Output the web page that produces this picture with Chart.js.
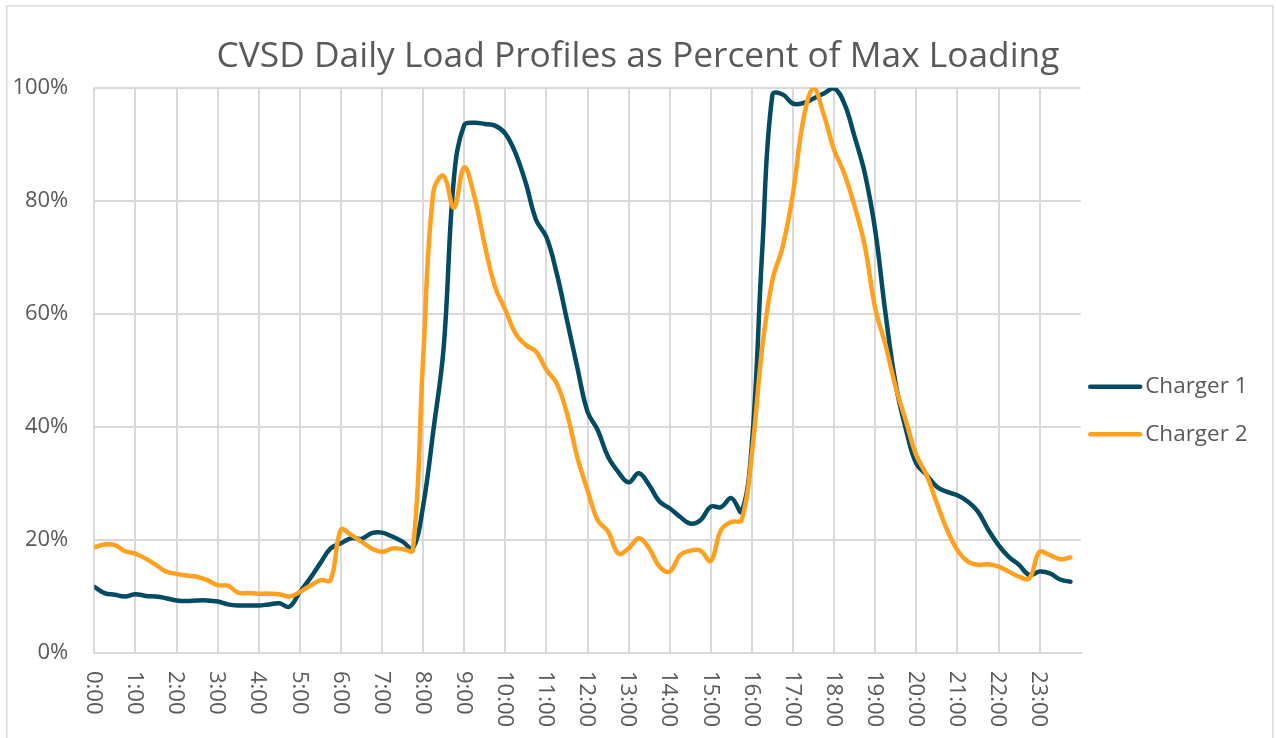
<!DOCTYPE html>
<html>
<head>
<meta charset="utf-8">
<script src="https://cdn.jsdelivr.net/npm/chart.js@4.4.1/dist/chart.umd.min.js"></script>
<style>
html,body{margin:0;padding:0;background:#fff;overflow:hidden;}
canvas{display:block;}
</style>
</head>
<body>
<canvas id="c" width="1276" height="738"></canvas>
<script>
// ---- data ----
const chartTitle = 'CVSD Daily Load Profiles as Percent of Max Loading';
const seriesNames = ['Charger 1', 'Charger 2'];
const times = [
 '0:00','0:15','0:30','0:45','1:00','1:15','1:30','1:45','2:00','2:15','2:30','2:45',
 '3:00','3:15','3:30','3:45','4:00','4:15','4:30','4:45','5:00','5:15','5:30','5:45',
 '6:00','6:15','6:30','6:45','7:00','7:15','7:30','7:45','8:00','8:15','8:30','8:45',
 '9:00','9:15','9:30','9:45','10:00','10:15','10:30','10:45','11:00','11:15','11:30','11:45',
 '12:00','12:15','12:30','12:45','13:00','13:15','13:30','13:45','14:00','14:15','14:30','14:45',
 '15:00','15:15','15:30','15:45','16:00','16:15','16:30','16:45','17:00','17:15','17:30','17:45',
 '18:00','18:15','18:30','18:45','19:00','19:15','19:30','19:45','20:00','20:15','20:30','20:45',
 '21:00','21:15','21:30','21:45','22:00','22:15','22:30','22:45','23:00','23:15','23:30','23:45'
];
const hourLabels = ['0:00','1:00','2:00','3:00','4:00','5:00','6:00','7:00','8:00','9:00','10:00','11:00',
 '12:00','13:00','14:00','15:00','16:00','17:00','18:00','19:00','20:00','21:00','22:00','23:00'];
const charger1 = [
 11.7,10.6,10.3,10.0,10.4,10.1,10.0,9.7,9.3,9.2,9.3,9.3,
 9.1,8.6,8.4,8.4,8.4,8.6,8.8,8.2,10.8,13.2,15.9,18.5,
 19.4,20.3,20.2,21.2,21.3,20.6,19.7,18.5,26.0,39.4,54.0,84.0,
 93.4,93.8,93.6,93.3,91.9,88.4,83.1,76.6,73.6,67.2,58.9,50.6,
 42.7,39.4,34.7,32.0,30.2,31.8,29.7,26.8,25.6,24.1,22.9,23.5,
 25.9,25.8,27.4,25.0,37.0,71.0,98.8,98.8,97.2,97.3,98.1,99.0,
 99.9,97.2,91.3,84.8,74.8,60.1,47.5,39.5,33.5,31.5,29.4,28.5,
 27.9,26.8,25.0,21.8,19.1,17.0,15.6,13.8,14.4,14.1,13.0,12.6
];
const charger2 = [
 18.7,19.2,19.1,18.0,17.6,16.7,15.6,14.4,14.0,13.7,13.5,12.9,
 12.0,11.9,10.7,10.6,10.5,10.5,10.4,10.0,10.8,11.9,12.9,12.9,
 21.8,20.9,19.7,18.5,17.9,18.5,18.4,18.2,52.0,81.6,84.4,78.8,
 85.9,80.7,72.2,64.8,60.7,56.5,54.5,53.3,50.1,47.7,42.4,34.7,
 28.8,23.5,21.5,17.6,18.5,20.3,18.5,15.3,14.4,17.3,18.1,18.1,
 16.3,21.8,23.2,23.5,35.3,54.0,66.0,71.9,81.3,94.3,99.9,95.2,
 89.0,84.8,79.0,71.9,61.0,54.5,47.0,41.0,35.0,31.5,26.5,21.8,
 18.2,16.2,15.6,15.7,15.3,14.4,13.5,13.2,17.9,17.3,16.6,16.9
];
const yTickValues = [0, 20, 40, 60, 80, 100];

// ---- styles ----
const FONT = "'Open Sans', 'Noto Sans', 'DejaVu Sans', sans-serif";
const TEXT = '#595959';
const GRID = '#D9D9D9';
const colors = ['#024B62', '#FFA01E'];

function toHours(t) { const p = t.split(':'); return +p[0] + (+p[1]) / 60; }

const datasets = [charger1, charger2].map((vals, i) => ({
  label: seriesNames[i],
  data: vals.map((v, k) => ({ x: toHours(times[k]), y: v })),
  borderColor: colors[i],
  backgroundColor: colors[i],
  borderWidth: 4.5,
  borderCapStyle: 'round',
  borderJoinStyle: 'round',
  pointRadius: 0,
  tension: 0.4,
  fill: false,
  order: i === 0 ? 1 : 0
}));

const framePlugin = {
  id: 'frame',
  beforeDraw(chart) {
    const ctx = chart.ctx;
    ctx.save();
    ctx.fillStyle = '#fff';
    ctx.fillRect(0, 0, chart.width, chart.height);
    ctx.strokeStyle = GRID;
    ctx.lineWidth = 1.5;
    ctx.strokeRect(6.7, 6, 1266.3, 800);
    ctx.restore();
  }
};

const xLabelPlugin = {
  id: 'xLabels',
  afterDraw(chart) {
    const ctx = chart.ctx;
    const xs = chart.scales.x;
    const top = chart.chartArea.bottom + 18;
    ctx.save();
    ctx.fillStyle = TEXT;
    ctx.font = '22px ' + FONT;
    ctx.textAlign = 'left';
    ctx.textBaseline = 'middle';
    hourLabels.forEach(lbl => {
      const px = xs.getPixelForValue(toHours(lbl));
      ctx.save();
      ctx.translate(px - 1, top);
      ctx.rotate(Math.PI / 2);
      ctx.fillText(lbl, 0, 0);
      ctx.restore();
    });
    ctx.restore();
  }
};

const legendPlugin = {
  id: 'sideLegend',
  afterDraw(chart) {
    const ctx = chart.ctx;
    const area = chart.chartArea;
    const x0 = area.right + 7.5;
    const y0 = 386.7;
    const gap = 47.6;
    ctx.save();
    ctx.font = '22.5px ' + FONT;
    ctx.textAlign = 'left';
    ctx.textBaseline = 'middle';
    chart.data.datasets.forEach((ds, i) => {
      const y = y0 + i * gap;
      ctx.strokeStyle = ds.borderColor;
      ctx.lineWidth = ds.borderWidth;
      ctx.lineCap = 'round';
      ctx.beginPath();
      ctx.moveTo(x0 + 2, y);
      ctx.lineTo(x0 + 52, y);
      ctx.stroke();
      ctx.fillStyle = TEXT;
      ctx.fillText(ds.label, x0 + 57, y);
    });
    ctx.restore();
  }
};

new Chart(document.getElementById('c'), {
  type: 'line',
  data: { datasets },
  options: {
    responsive: false,
    animation: false,
    devicePixelRatio: 1,
    layout: { padding: { left: 0, right: 0, top: 0, bottom: 0 } },
    plugins: {
      legend: { display: false },
      tooltip: { enabled: false },
      title: {
        display: true,
        text: chartTitle,
        color: TEXT,
        font: { family: FONT, size: 35.3, weight: 'normal' },
        padding: { top: 35.3, bottom: 10.1 }
      }
    },
    scales: {
      x: {
        type: 'linear',
        min: 0,
        max: 24,
        ticks: { display: false, stepSize: 1 },
        grid: {
          drawTicks: false,
          lineWidth: 2,
          color: c => (c.tick && c.tick.value >= 24) ? 'rgba(0,0,0,0)' : GRID
        },
        border: { display: true, color: GRID, width: 2 },
        afterFit: s => { s.height = 85; }
      },
      y: {
        min: 0,
        max: 100,
        afterBuildTicks: s => { s.ticks = yTickValues.map(v => ({ value: v })); },
        ticks: {
          color: TEXT,
          font: { family: FONT, size: 22 },
          padding: 26,
          callback: v => v + '%'
        },
        grid: { drawTicks: false, color: GRID, lineWidth: 2 },
        border: { display: false },
        afterFit: s => { s.width = 94.3; }
      },
      yR: {
        position: 'right',
        display: true,
        min: 0, max: 1,
        ticks: { display: false },
        grid: { display: false, drawTicks: false },
        border: { display: false },
        afterFit: s => { s.width = 195.3; }
      }
    }
  },
  plugins: [framePlugin, xLabelPlugin, legendPlugin]
});
</script>
</body>
</html>
